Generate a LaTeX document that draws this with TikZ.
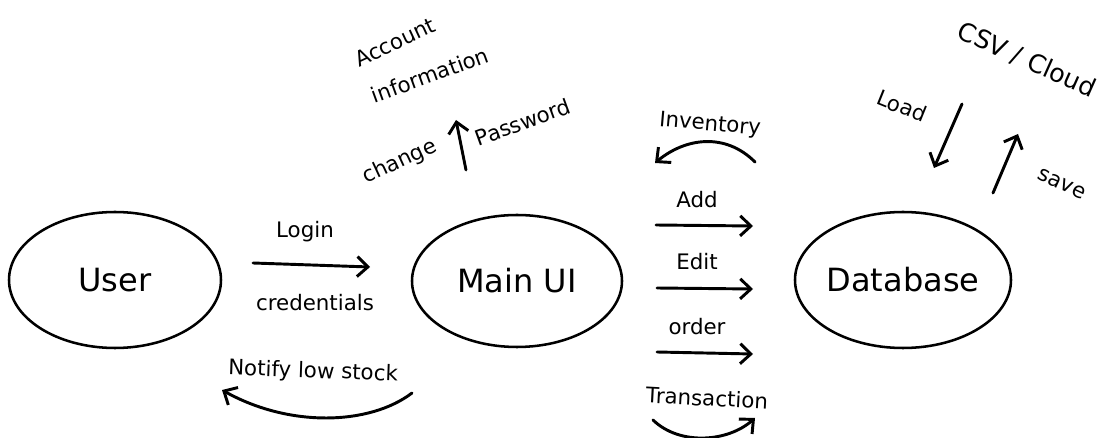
\documentclass[tikz,border=0pt]{standalone}
\usepackage{fontspec}
\setmainfont{DejaVu Sans}
\usetikzlibrary{shapes.geometric,arrows.meta}

\tikzset{
  entity/.style={draw, ellipse, line width=1.9pt, inner sep=0pt,
    font=\fontsize{24}{28}\selectfont},
  lbl/.style={font=\fontsize{16}{19}\selectfont, inner sep=1pt},
  biglbl/.style={font=\fontsize{19}{22}\selectfont, inner sep=1pt},
  flow/.style={line width=2.2pt, line cap=round,
    -{Straight Barb[length=8pt,width=15pt,line width=2.2pt]}}
}

\begin{document}
\begin{tikzpicture}[x=0.75pt, y=-0.75pt]
  \useasboundingbox (0,0) rectangle (1115,438);

  % main entities
  \node[entity, minimum width=159pt, minimum height=102pt] (user) at (115,280) {User};
  \node[entity, minimum width=157.5pt, minimum height=99pt] (ui) at (517,281) {Main UI};
  \node[entity, minimum width=162pt, minimum height=102pt] (db) at (903,280) {Database};

  % user <-> main UI
  \coordinate (loginS) at (253,263);
  \coordinate (loginE) at (370,267);
  \draw[flow] (loginS) -- (loginE);
  \node[lbl] (login) at (305,232) {Login};
  \node[lbl] (cred) at (315,303) {credentials};

  \coordinate (notS) at (412,393);
  \coordinate (notE) at (222,390);
  \draw[flow] (notS) .. controls (370,425) and (290,428) .. (notE);
  \node[lbl, rotate=-2] (notify) at (313,372) {Notify low stock};

  % account information
  \node[lbl, rotate=25] (acc) at (395,42) {Account};
  \node[lbl, rotate=20] (info) at (430,75) {information};
  \coordinate (pwS) at (466,170);
  \coordinate (pwE) at (456,120);
  \draw[flow] (pwS) -- (pwE);
  \node[lbl, rotate=25] (chg) at (400,162) {change};
  \node[lbl, rotate=20] (pw) at (523,122) {Password};

  % main UI <-> database
  \coordinate (invS) at (755,162);
  \coordinate (invE) at (655,163);
  \draw[flow] (invS) .. controls (725,132) and (685,138) .. (invE);
  \node[lbl, rotate=-5] (inv) at (710,125) {Inventory};

  \coordinate (addS) at (656,225);
  \coordinate (addE) at (753,226);
  \draw[flow] (addS) -- (addE);
  \node[lbl] (add) at (697,200) {Add};

  \coordinate (editS) at (657,288);
  \coordinate (editE) at (753,289);
  \draw[flow] (editS) -- (editE);
  \node[lbl] (edit) at (697,262) {Edit};

  \coordinate (ordS) at (657,352);
  \coordinate (ordE) at (753,354);
  \draw[flow] (ordS) -- (ordE);
  \node[lbl] (ord) at (697,327) {order};

  \coordinate (trS) at (653,420);
  \coordinate (trE) at (755,418);
  \draw[flow] (trS) .. controls (680,446) and (728,442) .. (trE);
  \node[lbl, rotate=-3] (tr) at (707,398) {Transaction};

  % database <-> storage
  \node[biglbl, rotate=-24] (csv) at (1027,60) {CSV / Cloud};
  \coordinate (loadS) at (962,104);
  \coordinate (loadE) at (934,168);
  \draw[flow] (loadS) -- (loadE);
  \node[lbl, rotate=-22] (load) at (902,106) {Load};
  \coordinate (saveS) at (993,193);
  \coordinate (saveE) at (1018,134);
  \draw[flow] (saveS) -- (saveE);
  \node[lbl, rotate=-25] (save) at (1062,184) {save};
\end{tikzpicture}
\end{document}
